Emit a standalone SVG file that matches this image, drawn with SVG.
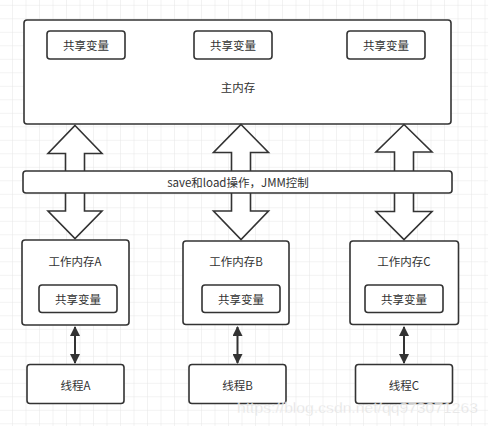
<svg xmlns="http://www.w3.org/2000/svg" width="488" height="426" viewBox="0 0 488 426">
<style>
.box{fill:#fff;stroke:#333;stroke-width:1.6}
.big{fill:#fff;stroke:#333;stroke-width:1.6;stroke-linejoin:miter}
.t{font-family:"Noto Sans CJK SC","Liberation Sans",sans-serif;font-size:11.5px;fill:#333;text-anchor:middle;dominant-baseline:central}
.lnk{stroke:#333;stroke-width:2;fill:none}
</style>
<defs>
<pattern id="grid" x="12" y="4.8" width="13.5" height="13.5" patternUnits="userSpaceOnUse">
<path d="M0 0H13.5M0 0V13.5" fill="none" stroke="#e6e6e6" stroke-width="1"/>
</pattern>
<marker id="ah" viewBox="0 0 10 10" refX="9" refY="5" markerWidth="10" markerHeight="10" markerUnits="userSpaceOnUse" orient="auto-start-reverse">
<path d="M0 0L10 5L0 10Z" fill="#333"/>
</marker>
</defs>
<rect width="488" height="426" fill="#fff"/>
<rect width="488" height="426" fill="url(#grid)"/>

<g id="main-memory">
<rect class="box" x="24" y="20" width="427" height="104" rx="3"/>
<text class="t" x="238" y="87">主内存</text>
</g>
<g id="shared-1"><rect class="box" x="47" y="31" width="78" height="28" rx="3"/><text class="t" x="86" y="45">共享变量</text></g>
<g id="shared-2"><rect class="box" x="194" y="31" width="78" height="28" rx="3"/><text class="t" x="233" y="45">共享变量</text></g>
<g id="shared-3"><rect class="box" x="347" y="31" width="78" height="28" rx="3"/><text class="t" x="386" y="45">共享变量</text></g>

<g id="connectors">
<polygon class="big" points="75,125.5 102,153.5 84.5,153.5 84.5,211 102,211 75,238.5 48,211 65.5,211 65.5,153.5 48,153.5"/>
<polygon class="big" points="241,124.5 268.5,152.5 250.5,152.5 250.5,211 268.5,211 241,239.5 213.5,211 231.5,211 231.5,152.5 213.5,152.5"/>
<polygon class="big" points="404,124.5 432,152 413.5,152 413.5,211.5 432,211.5 404,239.5 376,211.5 394.5,211.5 394.5,152 376,152"/>
<line class="lnk" x1="75" y1="327" x2="75" y2="363" marker-start="url(#ah)" marker-end="url(#ah)"/>
<line class="lnk" x1="237.5" y1="327" x2="237.5" y2="363" marker-start="url(#ah)" marker-end="url(#ah)"/>
<line class="lnk" x1="404" y1="327" x2="404" y2="363" marker-start="url(#ah)" marker-end="url(#ah)"/>
</g>

<g id="save-load-bar">
<rect class="box" x="23" y="171" width="429" height="22" rx="3"/>
<text class="t" x="238" y="182">save和load操作，JMM控制</text>
</g>

<g id="work-memory-a">
<rect class="box" x="22" y="240" width="107" height="85" rx="3"/>
<text class="t" x="75" y="261">工作内存A</text>
<rect class="box" x="39" y="285" width="78" height="27.5" rx="3"/>
<text class="t" x="78" y="299">共享变量</text>
</g>
<g id="work-memory-b">
<rect class="box" x="183" y="241" width="106" height="83.5" rx="3"/>
<text class="t" x="236" y="261">工作内存B</text>
<rect class="box" x="202" y="285" width="78" height="27.5" rx="3"/>
<text class="t" x="241" y="299">共享变量</text>
</g>
<g id="work-memory-c">
<rect class="box" x="350" y="241" width="108.5" height="83.5" rx="3"/>
<text class="t" x="404" y="261">工作内存C</text>
<rect class="box" x="365" y="285" width="78" height="27.5" rx="3"/>
<text class="t" x="404" y="299">共享变量</text>
</g>

<g id="thread-a"><rect class="box" x="27" y="364.5" width="97" height="39" rx="3"/><text class="t" x="75.5" y="385">线程A</text></g>
<g id="thread-b"><rect class="box" x="189" y="364.5" width="97" height="39" rx="3"/><text class="t" x="237.5" y="385">线程B</text></g>
<g id="thread-c"><rect class="box" x="355.5" y="364.5" width="97" height="39" rx="3"/><text class="t" x="404" y="385">线程C</text></g>

<text x="237" y="413" font-family="Liberation Sans,sans-serif" font-size="15" fill="#dadada" stroke="#fff" stroke-width="0.4" opacity="0.85" textLength="241" lengthAdjust="spacingAndGlyphs">https://blog.csdn.net/qq973071263</text>
</svg>
